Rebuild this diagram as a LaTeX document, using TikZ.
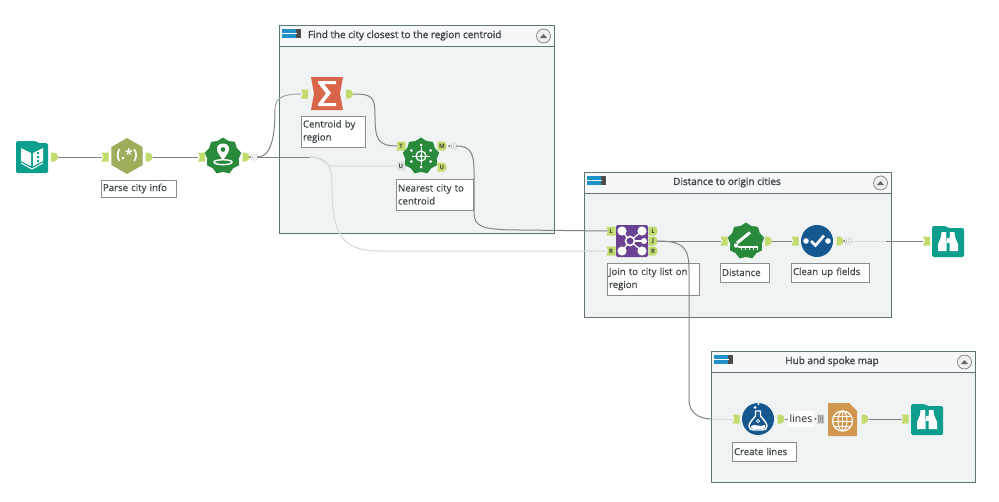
\documentclass[tikz,border=0pt]{standalone}
\usepackage{fontspec}
\setmainfont[FakeBold=0.7]{Open Sans}
\newfontfamily\titlefont[FakeBold=1.6]{Open Sans}
\newfontfamily\plainfont{Open Sans}
\usetikzlibrary{shapes.geometric}
\definecolor{portc}{HTML}{BFDC6C}
\definecolor{contb}{HTML}{5E7573}
\definecolor{contf}{HTML}{F0F3F4}
\definecolor{barf}{HTML}{F6F8F9}
\definecolor{teal1}{HTML}{0E9E8E}
\definecolor{gree1}{HTML}{2A8A3C}
\definecolor{blue1}{HTML}{14588F}
\definecolor{blue2}{HTML}{2090CC}
\definecolor{purp1}{HTML}{6A4291}
\definecolor{sig1}{HTML}{D9654B}
\definecolor{hex1}{HTML}{9CAE5A}
\definecolor{orng1}{HTML}{D2974F}
\definecolor{txt1}{HTML}{3E474A}
\definecolor{wired}{HTML}{7E8484}
\definecolor{wirel}{HTML}{D6DADA}
\tikzset{
  x=1pt,y=-1pt,
  every node/.style={inner sep=0pt,outer sep=0pt,font=\fontsize{9.6}{13}\selectfont\color{txt1}},
  container/.style={draw=contb,line width=1pt,fill=contf,anchor=north west},
  titlebar/.style={draw=contb,line width=1pt,fill=barf,anchor=north west},
  titletext/.style={font=\titlefont\fontsize{9.95}{12}\selectfont\color{txt1}},
  lab/.style={draw=black!45,line width=.8pt,fill=white,anchor=north west,align=left,inner sep=2pt},
  portnode/.style={minimum width=7pt,minimum height=8pt},
  portletter/.style={font=\plainfont\fontsize{6}{6}\selectfont\bfseries\color{black!75}},
  wire/.style={draw=wired,line width=1pt},
  wirelight/.style={draw=wirel,line width=1pt},
  gearshape/.style={star,star points=9,star point ratio=1.16,minimum size=37pt,fill=gree1},
  collapse/.style={circle,draw=black!50,fill=black!6,line width=.7pt,minimum size=14pt},
  binfold/.style={fill=teal1,rounded corners=1.5pt},
}
\newcommand\inport[5][portc]{%
  \fill[#1] (#3-3.5,#4-4.5)--(#3+3.5,#4-4.5)--(#3+3.5,#4+4.5)--(#3-3.5,#4+4.5)--(#3-1.5,#4)--cycle;
  \node[portnode] (#2) at (#3,#4) {};}
\newcommand\lblin[5]{%
  \fill[#5] (#2-4.5,#3-4.5)--(#2+4.5,#3-4.5)--(#2+4.5,#3+4.5)--(#2-4.5,#3+4.5)--(#2-3,#3)--cycle;
  \node[portnode,portletter] (#1) at (#2,#3) {#4};}
\newcommand\outport[3]{%
  \fill[portc] (#2-3.5,#3-4.5)--(#2-.5,#3-4.5) .. controls (#2+2,#3-4.5) and (#2+3.5,#3-2) .. (#2+3.5,#3) .. controls (#2+3.5,#3+2) and (#2+2,#3+4.5) .. (#2-.5,#3+4.5)--(#2-3.5,#3+4.5)--cycle;
  \node[portnode] (#1) at (#2,#3) {};}
\newcommand\lblout[4]{%
  \fill[portc] (#2-4.5,#3-4.5)--(#2+1.5,#3-4.5) .. controls (#2+3.5,#3-4.5) and (#2+4.5,#3-2) .. (#2+4.5,#3) .. controls (#2+4.5,#3+2) and (#2+3.5,#3+4.5) .. (#2+1.5,#3+4.5)--(#2-4.5,#3+4.5)--cycle;
  \node[portnode,portletter] (#1) at (#2,#3) {#4};}
\newcommand\wavemark[3]{%
  \fill[black!60] (#2,#3) circle (1pt);
  \draw[black!35,line width=.5pt] (#2+1.5,#3-2.5) arc (-50:50:3.2);
  \draw[black!25,line width=.5pt] (#2+3.5,#3-3.5) arc (-50:50:4.5);
  \draw[black!20,line width=.5pt] (#2+5.5,#3-4.5) arc (-50:50:5.8);
  \coordinate (#1) at (#2+7,#3);}
\newcommand\contain[9]{%
  \node[container,minimum width=#4-#2,minimum height=#5-#3] (#1) at (#2,#3) {};
  \node[titlebar,minimum width=#4-#2,minimum height=#6-#3] (#1bar) at (#2,#3) {};
  \fill[blue2] (#2+3,#3+4) rectangle (#2+18,#3+13);
  \fill[black!70] (#2+17,#3+4) rectangle (#2+22,#3+13);
  \draw[white,line width=.6pt] (#2+3,#3+8.5)--(#2+18,#3+8.5);
  \node[collapse] (#1btn) at (#4-10.5,#3+11) {};
  \fill[black!60] (#4-14,#3+13)--(#4-10.5,#3+9)--(#4-7,#3+13)--cycle;
  \node[titletext,#9] (#1title) at (#7,#8) {\csname title#1\endcsname};}
\newcommand\binoc[3]{%
  \node[minimum width=32pt,minimum height=31pt] (#1) at (#2+16,#3+15.5) {};
  \fill[binfold] (#2,#3+31)--(#2,#3)--(#2+14,#3)--(#2+16,#3+2)--(#2+32,#3+2)--(#2+32,#3+31)--cycle;
  \fill[white] (#2+9.5,#3+6)--(#2+14,#3+6)--(#2+14.5,#3+14)--(#2+14.5,#3+25)--(#2+6,#3+25)--(#2+6,#3+18)--(#2+9,#3+11)--cycle;
  \fill[white] (#2+22.5,#3+6)--(#2+18,#3+6)--(#2+17.5,#3+14)--(#2+17.5,#3+25)--(#2+26,#3+25)--(#2+26,#3+18)--(#2+23,#3+11)--cycle;
  \fill[white] (#2+14.5,#3+12) rectangle (#2+17.5,#3+17);}
\newcommand\titlefind{Find the city closest to the region centroid}
\newcommand\titledist{Distance to origin cities}
\newcommand\titlehub{Hub and spoke map}
\begin{document}
\begin{tikzpicture}
\useasboundingbox (0,0) rectangle (999,501);
\fill[white] (0,0) rectangle (999,501);
\contain{find}{279}{25}{554}{233}{46}{308}{35.5}{anchor=west}
\contain{dist}{584}{172}{891}{317}{193}{727}{182.5}{anchor=center}
\contain{hub}{711}{351}{975}{482}{372}{832}{361.5}{anchor=center}

% book input
\node[minimum width=32pt,minimum height=32pt] (book) at (32,157) {};
\fill[teal1,rounded corners=1.5pt] (16,173)--(16,141)--(36,141)--(38,143)--(48,143)--(48,173)--cycle;
\fill[white] (21,148)--(31,153)--(31,166)--(21,161)--cycle;
\fill[white] (43,148)--(33,153)--(33,166)--(43,161)--cycle;
\fill[teal1] (37,152) rectangle (39,154) (37,156) rectangle (39,158) (37,160) rectangle (39,162);
\draw[white,line width=1pt] (21,163)--(32,169)--(43,163);
\outport{bookout}{54.5}{157}

% regex
\inport{rxin}{105}{157}{}{}
\node[regular polygon,regular polygon sides=6,fill=hex1,minimum size=36pt,shape border rotate=30] (regex) at (127,156) {};
\node[font=\plainfont\fontsize{14}{14}\selectfont\bfseries\color{white}] (regext) at (127,155.5) {(.*)};
\outport{rxout}{149}{157}
\node[lab,text width=71pt,minimum height=17pt] (rxlab) at (101,180) {Parse city info};

% geocoder
\inport{geoin}{201.5}{157}{}{}
\node[gearshape] (geo) at (223,156) {};
\fill[white] (223,143.5) .. controls (218,143.5) and (216.5,147) .. (217,150) .. controls (217.5,153) and (221,157) .. (223,160.5) .. controls (225,157) and (228.5,153) .. (229,150) .. controls (229.5,147) and (228,143.5) .. (223,143.5) -- cycle;
\fill[gree1] (223,149.5) circle (2.4pt);
\draw[white,line width=1.4pt] (214,162) .. controls (214,165.5) and (232,165.5) .. (232,162) .. controls (232,159) and (214,159) .. (214,162) -- cycle;
\outport{geoout}{246}{157}
\wavemark{geow}{250}{157}

% summarize
\inport{sumin}{304.5}{94}{}{}
\node[minimum width=32pt,minimum height=33pt] (sum) at (327,93.5) {};
\fill[sig1] (311,77)--(343,77)--(340,93.5)--(343,110)--(311,110)--(314,93.5)--cycle;
\fill[white] (318,81)--(336,81)--(336,84)--(324,84)--(331,93)--(323,103)--(336,103)--(336,106)--(318,106)--(318,104)--(326,93.5)--(318,83)--cycle;
\outport{sumout}{349.5}{94}
\node[lab,text width=60pt,minimum height=31pt] (sumlab) at (301,116) {Centroid by\\region};

% nearest
\lblin{nT}{401}{146}{T}{portc}
\lblin{nU}{401}{166}{U}{black!12}
\node[gearshape] (near) at (421,156) {};
\foreach \a in {30,90,...,330}{\fill[white] (421,156) ++(\a:11) circle (1.5pt);}
\draw[white,line width=1.2pt] (421,156) circle (5pt);
\fill[white] (421,156) circle (1.6pt);
\draw[white,line width=1pt] (412,156)--(430,156) (421,147)--(421,165);
\lblout{nM}{442}{146}{M}
\lblout{nUo}{442}{167}{U}
\wavemark{nearw}{449}{146}
\node[lab,text width=73pt,minimum height=31pt] (nearlab) at (396,179) {Nearest city to\\centroid};

% join
\lblin{jL}{611}{231}{L}{portc}
\lblin{jR}{611}{251}{R}{portc}
\node[minimum size=32pt,fill=purp1,rounded corners=2pt] (join) at (632,241) {};
\foreach \p in {(622,231),(622,251),(642,231),(642,251),(644,241)}{
  \draw[white,line width=1.2pt] (630,241)--\p;}
\foreach \p in {(622,231),(622,251),(642,231),(642,251)}{\fill[white] \p circle (4.6pt);}
\fill[white] (644,241) circle (3pt);
\draw[white,line width=1.6pt,fill=purp1] (630,241) circle (4.5pt);
\lblout{jLo}{653}{231}{L}
\lblout{jJ}{653}{241}{J}
\lblout{jRo}{653}{251}{R}
\node[lab,text width=88pt,minimum height=32pt] (joinlab) at (607,263) {Join to city list on\\region};

% distance
\inport{dsin}{724}{241}{}{}
\node[gearshape] (dst) at (746,241) {};
\draw[white,line width=3pt] (737,243)--(750,232.5);
\fill[white] (736,245.5) circle (2.2pt);
\fill[white] (738,245.5) rectangle (758,248);
\foreach \t in {741,745,749,753,757}{\fill[white] (\t,248) rectangle (\t+1.4,250);}
\outport{dsout}{768.5}{241}
\node[lab,text width=45pt,minimum height=19pt] (dstlab) at (720,263) {Distance};

% clean
\inport{clin}{795}{241}{}{}
\node[circle,fill=blue1,minimum size=32pt] (cln) at (817,241) {};
\fill[white] (806,241) circle (2.8pt) (828,241) circle (2.8pt);
\draw[white,line width=2.6pt] (811,241)--(815.5,245.5)--(824,235.5);
\outport{clout}{840}{241}
\wavemark{clnw}{844}{241}
\node[lab,text width=74pt,minimum height=19pt] (clnlab) at (791,263) {Clean up fields};

% browse 1
\inport{b1in}{926.5}{241}{}{}
\binoc{brw}{932}{226}

% flask
\inport{fkin}{736}{419}{}{}
\node[circle,fill=blue1,minimum size=32pt] (flask) at (758,419) {};
\draw[white,line width=1.4pt,line join=round,fill=blue1] (755.5,411)--(760.5,411)--(760.5,416) .. controls (763,419) and (767,423) .. (767,426) .. controls (767,429) and (765,430) .. (762,430)--(754,430) .. controls (751,430) and (749,429) .. (749,426) .. controls (749,423) and (753,419) .. (755.5,416)--cycle;
\fill[white] (751,426) .. controls (755,423) and (760,428) .. (765,425) .. controls (766,428) and (764,429) .. (762,429)--(754,429) .. controls (752,429) and (750,428) .. (751,426)--cycle;
\draw[white,line width=.8pt] (758,421) circle (1.6pt);
\fill[white] (755,407.5) circle (1.5pt) (758.5,404) circle (1.1pt);
\outport{fkout}{781}{419}
\node[lab,text width=60pt,minimum height=19pt] (fklab) at (732,442) {Create lines};

% render
\node[fill=white,minimum width=26pt,minimum height=16pt,font=\plainfont\fontsize{10.5}{12}\selectfont\color{black!85}] (lines) at (801,419) {lines};
\inport[black!22]{rdin}{820.5}{419}{}{}
\fill[black!60] (815.5,419) circle (1pt);
\foreach \t in {818,820,822}{\draw[black!60,line width=.5pt] (\t,415)--(\t+1,423);}
\node[minimum width=29pt,minimum height=33pt] (render) at (842.5,419.5) {};
\fill[orng1] (828,403)--(849,403)--(857,411)--(857,436)--(828,436)--cycle;
\draw[white,line width=1.2pt] (842.5,421) circle (10pt);
\draw[white,line width=1pt] (842.5,421) ellipse (4.5pt and 10pt);
\draw[white,line width=1pt] (832.5,421)--(852.5,421) (834,416)--(851,416) (834,426)--(851,426) (842.5,411)--(842.5,431);
\outport{rdout}{865}{419}
\inport{b2in}{905}{419}{}{}
\binoc{brw2}{911}{404}

% connectors
\draw[wire] (bookout.east)--(rxin.west);
\draw[wire] (rxout.east)--(geoin.west);
\coordinate (mid1) at (275,110);
\draw[wire] (geow) .. controls (266,157) and (275,150) .. (mid1);
\draw[wirelight,draw=black!35] (mid1) .. controls (275,98) and (282,94) .. (sumin.west);
\coordinate (mid2) at (310,157);
\draw[wire] (geow)--(mid2);
\draw[wirelight] (mid2) .. controls (325,157) and (322,166) .. (335,166) -- (nU.west);
\draw[wirelight] (mid2) .. controls (327,157) and (332,165) .. (332,185) .. controls (332,235) and (342,251) .. (380,251) -- (jR.west);
\draw[wire] (sumout.east) .. controls (372,94) and (375,97) .. (375,115) .. controls (375,140) and (378,146) .. (nT.west);
\draw[wire] (nearw) .. controls (468,146) and (474,150) .. (474,170) -- (474,212) .. controls (474,226) and (480,230) .. (520,230) -- (jL.west);
\draw[wire] (jJ.east)--(dsin.west);
\draw[wire] (dsout.east)--(clin.west);
\coordinate (mid4) at (886,241);
\draw[wirelight] (clnw)--(mid4);
\draw[wire] (mid4)--(b1in.west);
\coordinate (mid3) at (712,419);
\draw[wire] (jJ.east) .. controls (682,241) and (689,246) .. (689,270) -- (689,400) .. controls (689,412) and (698,419) .. (mid3);
\draw[wirelight] (mid3)--(fkin.west);
\draw[wire] (fkout.east)--(lines.west);
\draw[wire] (rdout.east)--(b2in.west);
\end{tikzpicture}
\end{document}
